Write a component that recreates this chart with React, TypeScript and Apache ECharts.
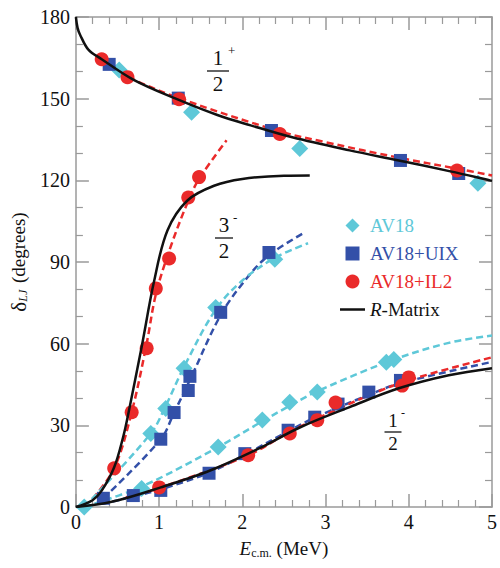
import React, { useEffect, useRef } from "react";
import * as echarts from "echarts";

// ---------- data (E in MeV, delta in degrees) ----------
const xTicks = [0, 1, 2, 3, 4, 5];
const yTicks = [0, 30, 60, 90, 120, 150, 180];

// scatter points per model
const av18Pts = [
  [0.52, 160.5], [1.39, 145], [2.69, 131.7], [4.83, 118.9],
  [0.1, 0], [0.9, 27], [1.08, 36.2], [1.3, 51], [1.68, 73.3], [2.39, 91],
  [0.79, 6.8], [1.71, 22], [2.24, 32], [2.57, 38.5], [2.9, 42.2], [3.73, 53.2], [3.82, 54.2],
];
const uixPts = [
  [0.4, 162.6], [1.23, 150.2], [2.35, 138.3], [3.9, 127.3], [4.6, 122.5],
  [0.33, 3.2], [1.02, 24.9], [1.18, 34.7], [1.35, 42.8], [1.37, 48], [1.74, 71.5], [2.32, 93.5],
  [0.69, 4.2], [1.02, 6.1], [1.6, 12.4], [2.03, 19.6], [2.55, 28.2], [2.87, 33], [3.15, 37.8], [3.52, 42.2], [3.9, 46.5],
];
const il2Pts = [
  [0.31, 164.5], [0.62, 157.9], [1.24, 149.8], [2.45, 137], [4.58, 123.6],
  [0.46, 14.2], [0.67, 34.8], [0.85, 58.3], [0.96, 80.3], [1.12, 91.3], [1.35, 113.7], [1.48, 121.2],
  [1.0, 7.2], [2.07, 19], [2.57, 27], [2.9, 31.9], [3.12, 38.4], [3.92, 44.6], [4.0, 47.6],
];

// dashed model curves
const il2HalfPlus = [[0.31, 165], [0.62, 158.2], [1.24, 150.2], [2.45, 138], [3.0, 134], [3.9, 128.2], [4.58, 124.3], [5, 121.8]];
const il2ThreeHalf = [[0.2, 3], [0.46, 14.2], [0.67, 34.8], [0.85, 60], [0.96, 78], [1.12, 94], [1.35, 112.5], [1.48, 120.5], [1.81, 134.7]];
const uixThreeHalf = [[0.33, 3.2], [1.02, 24.9], [1.18, 34.7], [1.36, 46], [1.74, 70.5], [2.06, 84.3], [2.32, 92.5], [2.73, 100.5]];
const av18ThreeHalf = [[0.1, 0], [0.9, 27], [1.08, 37.2], [1.3, 51.5], [1.68, 72.5], [2.0, 83.2], [2.39, 91.5], [2.79, 96.9]];
const av18HalfMinus = [[0.1, 0], [0.79, 7.5], [1.71, 22], [2.24, 31.5], [2.57, 37.2], [2.9, 42.5], [3.78, 53.7], [4.48, 60.3], [5, 63]];
const uixHalfMinus = [[0.31, 1.2], [0.69, 3.8], [1.02, 6.5], [1.6, 12.6], [2.03, 19.2], [2.55, 27.8], [2.87, 32.8], [3.52, 41.2], [3.9, 45.5], [5, 53.3]];
const il2HalfMinus = [[0.6, 3.5], [1.0, 7.0], [2.07, 19], [2.57, 27.6], [3.05, 34.6], [3.52, 41], [4.0, 46.6], [5, 55]];

// R-matrix curves
const rHalfPlus = [[0, 180], [0.02, 176], [0.05, 173.5], [0.15, 168], [0.31, 164.5], [0.7, 156.8], [1.2, 150], [1.7, 144], [2.1, 140.2], [2.6, 135.8], [3.29, 131], [3.88, 127.3], [4.5, 123.3], [5, 119.8]];
const rThreeHalf = [[0, 0], [0.2, 2.5], [0.31, 6], [0.46, 14.6], [0.57, 26], [0.63, 34.3], [0.79, 58.8], [0.94, 83], [1.1, 101.6], [1.34, 112.6], [1.66, 118], [2.0, 120.5], [2.5, 121.7], [2.81, 121.8]];
const rHalfMinus = [[0, 0], [0.43, 1.9], [1.02, 7.2], [1.62, 13.5], [2.2, 21.5], [2.69, 29.2], [3.29, 36.7], [3.88, 43.6], [4.48, 48.4], [5, 51]];

const legendNames = ["AV18", "AV18+UIX", "AV18+IL2", "R-Matrix"];

const CYAN = "#5ec8d8";
const BLUE = "#3350a8";
const RED = "#ea2a2a";
const BLACK = "#111111";
const AXIS = "#9a9a9a";
const SERIF = "'Liberation Serif', 'Times New Roman', serif";

export default function App() {
  const ref = useRef<HTMLDivElement>(null);
  useEffect(() => {
    if (!ref.current) return;
    const chart = echarts.init(ref.current, undefined, { renderer: "svg" });

    const axisCommon = (showLabel: boolean) => ({
      axisLine: { show: true, onZero: false, lineStyle: { color: AXIS, width: 1.5 } },
      axisTick: { show: true, inside: true, length: 13, lineStyle: { color: AXIS, width: 1.5 } },
      minorTick: { show: true, length: 7, lineStyle: { color: AXIS, width: 1.2 } },
      splitLine: { show: false },
      axisLabel: { show: showLabel, color: BLACK, fontFamily: SERIF, fontSize: 20 },
    });

    const dashed = (name: string, data: number[][], color: string) => ({
      name,
      type: "line",
      data,
      smooth: 0.35,
      symbol: "none",
      z: 2,
      lineStyle: { color, width: 2.5, type: [7, 4] },
    });
    const solid = (data: number[][]) => ({
      name: "R-Matrix",
      type: "line",
      data,
      smooth: 0.35,
      symbol: "none",
      z: 5,
      lineStyle: { color: BLACK, width: 2.5 },
      itemStyle: { color: BLACK },
    });

    const txt = (x: number, y: number, text: string, size: number, align: string) => ({
      type: "text",
      x,
      y,
      style: {
        text,
        fill: BLACK,
        font: `${size}px ${SERIF}`,
        textAlign: align,
        textVerticalAlign: "middle",
      },
    });
    const fraction = (cx: number, num: number, barY: number, sup: string, size: number, barW: number, supDx: number) => [
      txt(cx, barY - size * 0.6, String(num), size, "center"),
      txt(cx + supDx, barY - size * 0.98, sup, Math.round(size * 0.62), "left"),
      {
        type: "line",
        shape: { x1: cx - barW / 2, y1: barY, x2: cx + barW / 2, y2: barY },
        style: { stroke: BLACK, lineWidth: 1.3 },
      },
      txt(cx, barY + size * 0.62, "2", size, "center"),
    ];

    chart.setOption({
      animation: false,
      grid: { left: 74, right: 6, top: 17, bottom: 61, containLabel: false },
      legend: {
        data: [
          { name: legendNames[0], icon: "path://M8,0 L16,8 L8,16 L0,8 Z", itemStyle: { color: CYAN }, textStyle: { color: CYAN } },
          { name: legendNames[1], icon: "path://M0,0 L12,0 L12,12 L0,12 Z", itemStyle: { color: BLUE }, textStyle: { color: BLUE } },
          { name: legendNames[2], icon: "circle", itemStyle: { color: RED }, textStyle: { color: RED } },
          { name: legendNames[3], icon: "path://M0,0 L25,0 L25,2.5 L0,2.5 Z", itemStyle: { color: BLACK }, textStyle: { color: BLACK } },
        ],
        orient: "vertical",
        left: 335,
        top: 210,
        itemWidth: 25,
        itemHeight: 14,
        itemGap: 7,
        symbolKeepAspect: true,
        selectedMode: false,
        formatter: (n: string) => (n === "R-Matrix" ? "{i|R}-Matrix" : n),
        textStyle: {
          fontFamily: SERIF,
          fontSize: 19,
          lineHeight: 21,
          rich: {
            i: { fontFamily: SERIF, fontSize: 19, fontStyle: "italic", color: BLACK },
          },
        },
      },
      xAxis: [
        {
          type: "value",
          min: 0,
          max: 5,
          interval: 1,
          position: "bottom",
          name: "{e|E}{s|c.m.} (MeV)",
          nameLocation: "middle",
          nameGap: 31,
          nameTextStyle: {
            color: BLACK,
            fontFamily: SERIF,
            fontSize: 19,
            rich: {
              e: { fontFamily: SERIF, fontSize: 19, fontStyle: "italic", color: BLACK },
              s: { fontFamily: SERIF, fontSize: 12, color: BLACK, padding: [9, 0, 0, 0] },
            },
          },
          ...axisCommon(true),
          minorTick: { show: true, splitNumber: 5, length: 7, lineStyle: { color: AXIS, width: 1.2 } },
          axisLabel: { show: true, color: BLACK, fontFamily: SERIF, fontSize: 20, margin: 5, formatter: (v: number) => (xTicks.includes(v) ? String(v) : "") },
        },
        { type: "value", min: 0, max: 5, interval: 1, position: "top", ...axisCommon(false), minorTick: { show: true, splitNumber: 5, length: 7, lineStyle: { color: AXIS, width: 1.2 } } },
      ],
      yAxis: [
        {
          type: "value",
          min: 0,
          max: 180,
          interval: 30,
          position: "left",
          name: "{d|δ}{s|LJ} (degrees)",
          nameLocation: "middle",
          nameGap: 46,
          nameTextStyle: {
            color: BLACK,
            fontFamily: SERIF,
            fontSize: 19,
            rich: {
              d: { fontFamily: SERIF, fontSize: 21, color: BLACK },
              s: { fontFamily: SERIF, fontSize: 12, fontStyle: "italic", color: BLACK, padding: [9, 2, 0, 0] },
            },
          },
          ...axisCommon(true),
          axisLabel: { show: true, color: BLACK, fontFamily: SERIF, fontSize: 20, margin: 6, formatter: (v: number) => (yTicks.includes(v) ? String(v) : "") },
          minorTick: { show: true, splitNumber: 3, length: 7, lineStyle: { color: AXIS, width: 1.2 } },
        },
        { type: "value", min: 0, max: 180, interval: 30, position: "right", ...axisCommon(false), minorTick: { show: true, splitNumber: 3, length: 7, lineStyle: { color: AXIS, width: 1.2 } } },
      ],
      series: [
        dashed("fit-il2-half-plus", il2HalfPlus, RED),
        dashed("fit-il2-three-half", il2ThreeHalf, RED),
        dashed("fit-uix-three-half", uixThreeHalf, BLUE),
        dashed("fit-av18-three-half", av18ThreeHalf, CYAN),
        dashed("fit-av18-half-minus", av18HalfMinus, CYAN),
        dashed("fit-uix-half-minus", uixHalfMinus, BLUE),
        dashed("fit-il2-half-minus", il2HalfMinus, RED),
        { name: "AV18", type: "scatter", data: av18Pts, symbol: "diamond", symbolSize: 17, z: 3, itemStyle: { color: CYAN, opacity: 1 } },
        { name: "AV18+UIX", type: "scatter", data: uixPts, symbol: "rect", symbolSize: 13, z: 3, itemStyle: { color: BLUE, opacity: 1 } },
        { name: "AV18+IL2", type: "scatter", data: il2Pts, symbol: "circle", symbolSize: 14, z: 3, itemStyle: { color: RED, opacity: 1 } },
        solid(rHalfPlus),
        solid(rThreeHalf),
        solid(rHalfMinus),
      ],
      graphic: [
        ...fraction(218, 1, 71, "+", 21, 22, 10),
        ...fraction(224, 3, 238, "-", 21, 18, 9),
        ...fraction(393, 1, 432, "-", 19, 17, 8),
      ],
    });
    return () => chart.dispose();
  }, []);
  return <div ref={ref} style={{ position: "absolute", left: 0, top: 0, width: 500, height: 568 }} />;
}
